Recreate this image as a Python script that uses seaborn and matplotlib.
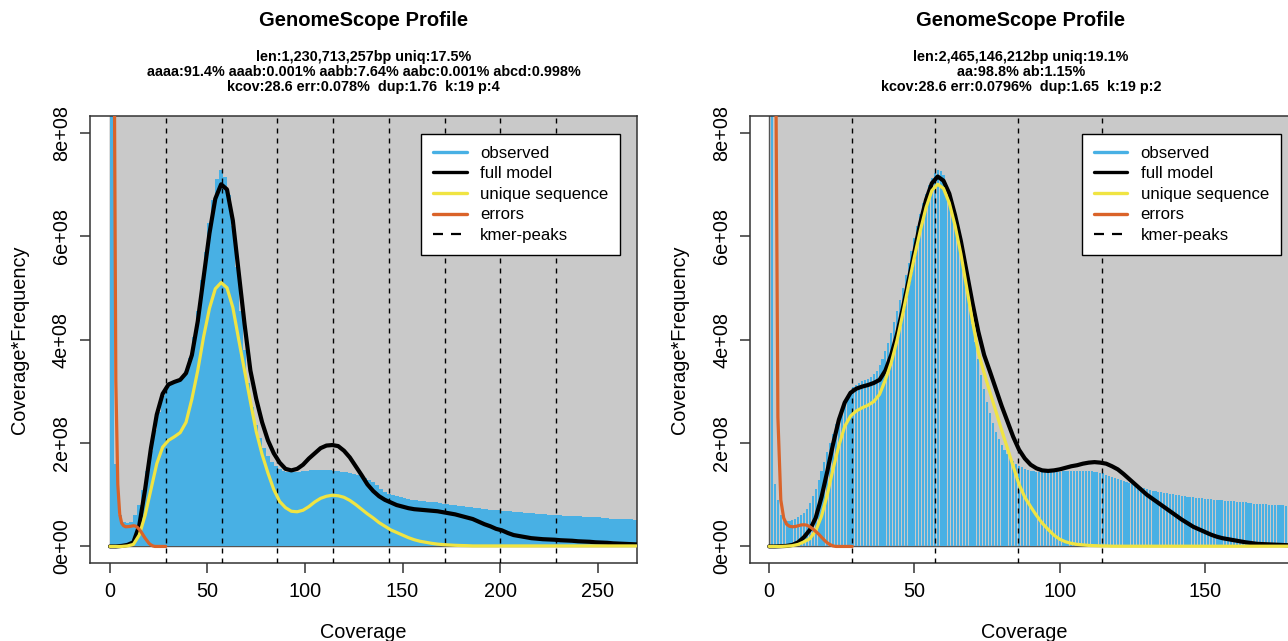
import numpy as np
import matplotlib
matplotlib.use("Agg")
import matplotlib.pyplot as plt
from matplotlib.lines import Line2D
from matplotlib.patches import Rectangle
import seaborn as sns

# ---------------- data (y values in units of 1e8) ----------------
# Left panel (p = 4)
left_title = "GenomeScope Profile"
left_sub = ["len:1,230,713,257bp uniq:17.5%",
            "aaaa:91.4% aaab:0.001% aabb:7.64% aabc:0.001% abcd:0.998%",
            "kcov:28.6 err:0.078%  dup:1.76  k:19 p:4"]
left_obs_x = list(range(1, 270, 2))
left_obs = [60, 1.6, 0.6, 0.47, 0.45, 0.47, 0.6, 0.8, 1.1, 1.45,
            1.85, 2.25, 2.6, 2.9, 3.1, 3.18, 3.2, 3.22, 3.28, 3.4,
            3.65, 4.05, 4.55, 5.15, 5.7, 6.25, 6.7, 7.1, 7.28, 7.15,
            6.8, 6.2, 5.4, 4.55, 3.8, 3.15, 2.7, 2.35, 2.1, 1.9,
            1.75, 1.63, 1.55, 1.5, 1.46, 1.44, 1.43, 1.43, 1.44, 1.45,
            1.46, 1.47, 1.48, 1.48, 1.48, 1.48, 1.47, 1.46, 1.45, 1.44,
            1.43, 1.42, 1.4, 1.38, 1.36, 1.33, 1.29, 1.24, 1.19, 1.12,
            1.06, 1.02, 0.99, 0.97, 0.95, 0.93, 0.91, 0.9, 0.89, 0.88,
            0.87, 0.86, 0.85, 0.85, 0.84, 0.83, 0.82, 0.81, 0.8, 0.79,
            0.78, 0.77, 0.76, 0.75, 0.74, 0.73, 0.72, 0.71, 0.7, 0.7,
            0.69, 0.69, 0.68, 0.67, 0.66, 0.66, 0.65, 0.64, 0.64, 0.63,
            0.62, 0.62, 0.61, 0.61, 0.6, 0.6, 0.59, 0.59, 0.59, 0.58,
            0.58, 0.57, 0.57, 0.56, 0.56, 0.56, 0.55, 0.55, 0.54, 0.54,
            0.54, 0.53, 0.53, 0.53, 0.52]
left_model_x = list(range(0, 271, 3))
left_full = [0, 0, 0.01, 0.03, 0.08, 0.4, 1.1, 1.9, 2.55, 2.95,
             3.13, 3.18, 3.22, 3.35, 3.7, 4.35, 5.2, 6.05, 6.72, 7.0,
             6.9, 6.3, 5.3, 4.3, 3.4, 2.85, 2.4, 2.05, 1.8, 1.62,
             1.5, 1.47, 1.5, 1.58, 1.7, 1.8, 1.9, 1.95, 1.96, 1.94,
             1.85, 1.72, 1.55, 1.38, 1.2, 1.07, 0.97, 0.9, 0.85, 0.8,
             0.77, 0.74, 0.72, 0.71, 0.7, 0.69, 0.68, 0.66, 0.64, 0.62,
             0.59, 0.56, 0.53, 0.48, 0.43, 0.39, 0.34, 0.31, 0.26, 0.22,
             0.2, 0.18, 0.16, 0.15, 0.14, 0.135, 0.13, 0.12, 0.115, 0.11,
             0.1, 0.095, 0.09, 0.08, 0.075, 0.07, 0.06, 0.055, 0.05, 0.045,
             0.04]
left_unique = [0, 0, 0, 0.01, 0.04, 0.22, 0.6, 1.1, 1.6, 1.92,
               2.05, 2.12, 2.2, 2.4, 2.85, 3.4, 4.05, 4.6, 4.98, 5.1,
               5.0, 4.62, 4.0, 3.4, 2.8, 2.22, 1.78, 1.42, 1.1, 0.87,
               0.75, 0.68, 0.67, 0.7, 0.77, 0.86, 0.93, 0.97, 0.99, 0.98,
               0.95, 0.89, 0.81, 0.72, 0.63, 0.55, 0.46, 0.39, 0.32, 0.27,
               0.22, 0.17, 0.13, 0.1, 0.08, 0.06, 0.045, 0.035, 0.028, 0.022,
               0.018, 0.015, 0.01, 0.01, 0.01, 0.01, 0.01, 0.01, 0.01, 0.01,
               0.01, 0.01, 0.01, 0.01, 0.01, 0.01, 0.01, 0.01, 0.01, 0.01,
               0.01, 0.01, 0.01, 0.01, 0.01, 0.01, 0.01, 0.01, 0.01, 0.01,
               0.01]
left_err_x = [1, 2, 3, 4, 5, 6, 7, 8, 10, 12, 13, 14, 15, 16, 17, 18, 19, 20, 21, 22, 23, 28.6]
left_err = [50, 11, 3.2, 1.2, 0.62, 0.45, 0.4, 0.38, 0.385, 0.4, 0.395, 0.37,
            0.33, 0.28, 0.22, 0.16, 0.11, 0.06, 0.03, 0.01, 0.0, 0.0]
left_peaks = [28.6, 57.2, 85.8, 114.4, 143.0, 171.6, 200.2, 228.8]
left_xticks = [0, 50, 100, 150, 200, 250]

# Right panel (p = 2)
right_title = "GenomeScope Profile"
right_sub = ["len:2,465,146,212bp uniq:19.1%",
             "aa:98.8% ab:1.15%",
             "kcov:28.6 err:0.0796%  dup:1.65  k:19 p:2"]
right_obs_x = list(range(1, 183))
right_obs = [60, 1.2, 0.9, 0.6, 0.52, 0.5, 0.5, 0.51, 0.53, 0.56,
             0.6, 0.64, 0.72, 0.84, 0.98, 1.12, 1.28, 1.45, 1.63, 1.82,
             2.0, 2.18, 2.36, 2.52, 2.67, 2.8, 2.92, 3.01, 3.08, 3.13,
             3.16, 3.19, 3.21, 3.24, 3.28, 3.33, 3.4, 3.5, 3.62, 3.77,
             3.94, 4.13, 4.33, 4.55, 4.77, 5.0, 5.24, 5.48, 5.72, 5.96,
             6.2, 6.42, 6.63, 6.82, 6.98, 7.12, 7.22, 7.27, 7.25, 7.17,
             7.03, 6.85, 6.62, 6.35, 6.05, 5.72, 5.38, 5.02, 4.66, 4.3,
             3.95, 3.62, 3.32, 3.04, 2.79, 2.57, 2.38, 2.22, 2.08, 1.96,
             1.86, 1.78, 1.71, 1.65, 1.6, 1.56, 1.53, 1.5, 1.48, 1.46,
             1.45, 1.44, 1.43, 1.43, 1.43, 1.43, 1.43, 1.43, 1.44, 1.44,
             1.45, 1.45, 1.45, 1.46, 1.46, 1.46, 1.46, 1.46, 1.46, 1.45,
             1.45, 1.44, 1.43, 1.42, 1.41, 1.39, 1.37, 1.35, 1.33, 1.31,
             1.29, 1.27, 1.25, 1.23, 1.21, 1.19, 1.17, 1.15, 1.13, 1.11,
             1.1, 1.08, 1.07, 1.06, 1.05, 1.04, 1.03, 1.02, 1.01, 1.0,
             0.99, 0.98, 0.97, 0.96, 0.95, 0.95, 0.94, 0.93, 0.93, 0.92,
             0.91, 0.91, 0.9, 0.9, 0.89, 0.89, 0.88, 0.88, 0.87, 0.87,
             0.86, 0.86, 0.85, 0.85, 0.84, 0.84, 0.83, 0.83, 0.83, 0.82,
             0.82, 0.81, 0.81, 0.81, 0.8, 0.8, 0.8, 0.79, 0.79, 0.79,
             0.78, 0.78]
right_model_x = list(range(0, 183, 2))
right_full = [0, 0, 0.005, 0.01, 0.03, 0.08, 0.18, 0.32, 0.55, 0.95,
              1.45, 1.98, 2.45, 2.78, 2.97, 3.05, 3.09, 3.12, 3.16, 3.22,
              3.4, 3.7, 4.1, 4.6, 5.15, 5.7, 6.25, 6.7, 7.02, 7.15,
              7.07, 6.82, 6.4, 5.9, 5.3, 4.7, 4.15, 3.7, 3.38, 3.05,
              2.72, 2.42, 2.12, 1.87, 1.7, 1.58, 1.51, 1.47, 1.46, 1.47,
              1.49, 1.52, 1.55, 1.57, 1.6, 1.62, 1.63, 1.62, 1.6, 1.55,
              1.49, 1.4, 1.3, 1.2, 1.1, 1.0, 0.92, 0.84, 0.76, 0.68,
              0.6, 0.52, 0.45, 0.38, 0.33, 0.28, 0.23, 0.19, 0.16, 0.14,
              0.12, 0.1, 0.08, 0.065, 0.05, 0.045, 0.04, 0.035, 0.03, 0.025,
              0.02, 0.02]
right_unique = [0, 0, 0, 0.005, 0.015, 0.04, 0.09, 0.15, 0.3, 0.58,
                1.0, 1.5, 1.95, 2.32, 2.52, 2.62, 2.68, 2.73, 2.8, 2.94,
                3.22, 3.55, 3.98, 4.5, 5.05, 5.6, 6.1, 6.55, 6.88, 7.0,
                6.92, 6.64, 6.2, 5.65, 5.0, 4.35, 3.75, 3.35, 2.98, 2.62,
                2.25, 1.9, 1.55, 1.2, 0.95, 0.77, 0.6, 0.45, 0.33, 0.22,
                0.14, 0.09, 0.06, 0.04, 0.03, 0.02, 0.015, 0.01, 0.01, 0.005,
                0.005, 0.005, 0.005, 0.005, 0.005, 0.005, 0.005, 0.005, 0.005, 0.005,
                0.005, 0.005, 0.005, 0.005, 0.005, 0.005, 0.005, 0.005, 0.005, 0.005,
                0.005, 0.005, 0.005, 0.005, 0.005, 0.005, 0.005, 0.005, 0.005, 0.005,
                0.005, 0.005]
right_err_x = [1, 2, 3, 4, 5, 6, 7, 8, 9, 10, 11, 12, 13, 14, 15, 16, 17, 18, 19, 20, 21, 22, 23, 28.6]
right_err = [60, 12, 2.5, 0.9, 0.55, 0.43, 0.39, 0.38, 0.385, 0.4, 0.415, 0.42,
             0.41, 0.38, 0.34, 0.29, 0.24, 0.18, 0.12, 0.07, 0.035, 0.01, 0.0, 0.0]
right_peaks = [28.6, 57.2, 85.8, 114.4]
right_xticks = [0, 50, 100, 150]

yticks = [0, 2e8, 4e8, 6e8, 8e8]
ytick_labels = ["0e+00", "2e+08", "4e+08", "6e+08", "8e+08"]
legend_labels = ["observed", "full model", "unique sequence", "errors", "kmer-peaks"]

# ---------------- style ----------------
BLUE = "#48B0E4"
BG = "#C9C9C9"
YELLOW = "#F0E442"
ORANGE = "#DA6329"
AXC = "#333333"
SCALE = 1e8

sns.set_theme(style="white")
plt.rcParams["font.family"] = ["Liberation Sans", "DejaVu Sans"]
plt.rcParams["text.color"] = "black"
plt.rcParams["axes.labelcolor"] = "black"
plt.rcParams["xtick.color"] = "black"
plt.rcParams["ytick.color"] = "black"

W, H = 1288, 641
fig = plt.figure(figsize=(W / 100, H / 100), dpi=100)


def add_axes_px(l, t, r, b):
    return fig.add_axes([l / W, 1 - b / H, (r - l) / W, (b - t) / H])


def draw_panel(ax, obs_x, obs, bars, mx, full, uniq, ex, err, peaks, xlim, xticks):
    ax.set_facecolor("white")
    ax.add_patch(Rectangle((0, 0), 2000, 100 * SCALE, facecolor=BG,
                           edgecolor="#555555", lw=1.0, zorder=0.5))
    obs_y = np.array(obs) * SCALE
    if bars:
        sns.histplot(x=obs_x, weights=obs_y, discrete=True, shrink=0.72,
                     element="bars", fill=True, color=BLUE, alpha=1,
                     linewidth=0, ax=ax, zorder=1)
    else:
        sns.histplot(x=obs_x, weights=obs_y, binwidth=2, binrange=(0, 270),
                     element="step", fill=True, color=BLUE, alpha=1,
                     linewidth=0, ax=ax, zorder=1)
    for p in peaks:
        ax.axvline(p, color="black", lw=1.0, linestyle=(0, (3.6, 3.6)), zorder=3)
    line_kw = dict(estimator=None, sort=False, ax=ax,
                   solid_joinstyle="round", solid_capstyle="round")
    sns.lineplot(x=mx, y=np.array(full) * SCALE, color="black", linewidth=3.0,
                 zorder=4, **line_kw)
    sns.lineplot(x=mx, y=np.array(uniq) * SCALE, color=YELLOW, linewidth=2.3,
                 zorder=5, **line_kw)
    sns.lineplot(x=ex, y=np.array(err) * SCALE, color=ORANGE, linewidth=2.3,
                 zorder=6, **line_kw)

    ax.set_xlim(*xlim)
    ax.set_ylim(-0.32 * SCALE, 8.32 * SCALE)
    ax.set_xticks(xticks)
    ax.set_xticklabels([str(t) for t in xticks])
    ax.set_yticks(yticks)
    ax.set_yticklabels(ytick_labels, rotation=90, va="center", ha="right")
    ax.tick_params(axis="both", which="both", direction="out", length=7.2,
                   width=1.1, color=AXC, labelsize=14.3, labelcolor="black",
                   bottom=True, left=True, top=False, right=False)
    ax.tick_params(axis="x", pad=6.5)
    ax.tick_params(axis="y", pad=6.3)
    for s in ax.spines.values():
        s.set_visible(True)
        s.set_color(AXC)
        s.set_linewidth(1.1)
    ax.grid(False)
    ax.set_xlabel("Coverage", fontsize=14.3, va="center", color="black")
    ax.set_ylabel("Coverage*Frequency", fontsize=14.3, va="center", color="black")
    ax.xaxis.set_label_coords(0.5, -(632 - 563) / 447)

    handles = [Line2D([], [], color=BLUE, lw=2.4),
               Line2D([], [], color="black", lw=2.4),
               Line2D([], [], color=YELLOW, lw=2.4),
               Line2D([], [], color=ORANGE, lw=2.4),
               Line2D([], [], color="black", lw=1.6, linestyle=(0, (4.5, 3.6)))]
    leg = ax.legend(handles, legend_labels, loc="upper right",
                    bbox_to_anchor=(1 - 17 / 547.6, 1 - 18 / 447),
                    frameon=True, fancybox=False, framealpha=1, fontsize=12.1,
                    handlelength=2.0, handletextpad=0.8, labelspacing=0.33,
                    borderpad=0.7, borderaxespad=0, facecolor="white")
    leg.get_frame().set_edgecolor("black")
    leg.get_frame().set_linewidth(1.0)
    for t in leg.get_texts():
        t.set_color("black")
    leg.set_zorder(10)


axL = add_axes_px(89.7, 116, 637.3, 563)
axR = add_axes_px(750.0, 116, 1297.6, 563)

draw_panel(axL, left_obs_x, left_obs, False, left_model_x, left_full, left_unique,
           left_err_x, left_err, left_peaks, (-10.4, 270.4), left_xticks)
draw_panel(axR, right_obs_x, right_obs, True, right_model_x, right_full, right_unique,
           right_err_x, right_err, right_peaks, (-6.6, 181.9), right_xticks)

axL.yaxis.set_label_coords((19 - 89.7) / 547.6, 0.5)
axR.yaxis.set_label_coords((679 - 750.0) / 547.6, 0.5)

for cx_px, title, sub in [((89.7 + 637.3) / 2, left_title, left_sub),
                          (1021.0, right_title, right_sub)]:
    cx = cx_px / W
    fig.text(cx, 1 - 20 / H, title, ha="center", va="center",
             fontsize=14.5, fontweight="bold", color="black")
    for yy, line in zip([57, 72, 87], sub):
        fig.text(cx, 1 - yy / H, line, ha="center", va="center",
                 fontsize=10.4, fontweight="bold", color="black")

fig.savefig("out.png", dpi=100)
